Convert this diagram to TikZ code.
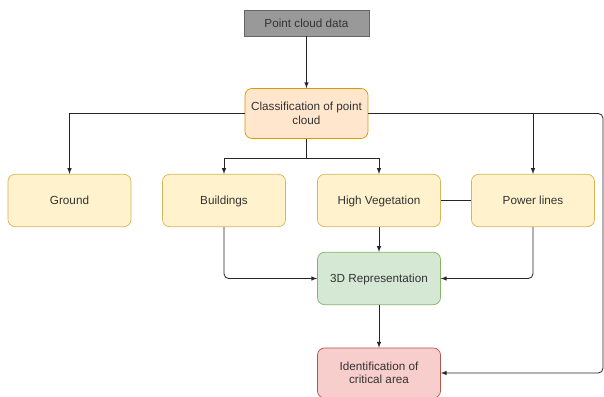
\documentclass[tikz,border=0pt]{standalone}
\usepackage{fontspec}
\setmainfont{Liberation Sans}
\usetikzlibrary{arrows}
\definecolor{pcdFill}{HTML}{999999}
\definecolor{pcdLine}{HTML}{666666}
\definecolor{txtGray}{HTML}{333333}
\definecolor{orFill}{HTML}{FFE6CC}
\definecolor{orLine}{HTML}{D79B00}
\definecolor{yeFill}{HTML}{FFF2CC}
\definecolor{yeLine}{HTML}{D6B656}
\definecolor{grFill}{HTML}{D5E8D4}
\definecolor{grLine}{HTML}{82B366}
\definecolor{reFill}{HTML}{F8CECC}
\definecolor{reLine}{HTML}{B85450}
\tikzstyle{BoxNode}=[rectangle, rounded corners=6pt, line width=0.6pt, align=center, inner sep=2pt, text=txtGray, font=\fontsize{10}{11.5}\selectfont, minimum width=3.69cm, minimum height=1.57cm]
\tikzstyle{DataNode}=[BoxNode, rounded corners=0pt, fill=pcdFill, draw=pcdLine, minimum width=3.75cm, minimum height=0.78cm]
\tikzstyle{ClassNode}=[BoxNode, fill=orFill, draw=orLine, minimum height=1.5cm]
\tikzstyle{CatNode}=[BoxNode, fill=yeFill, draw=yeLine, text height=1.6ex, text depth=0.45ex]
\tikzstyle{RepNode}=[BoxNode, fill=grFill, draw=grLine, text height=1.6ex, text depth=0.45ex]
\tikzstyle{AreaNode}=[BoxNode, fill=reFill, draw=reLine, minimum height=1.5cm]
\tikzstyle{FlowEdge}=[->, line width=0.7pt, black!85, rounded corners=4pt]
\tikzstyle{LinkEdge}=[line width=0.7pt, black!85]
\tikzset{>=latex}

\begin{document}
\begin{tikzpicture}[x=0.03cm, y=-0.03cm]
\useasboundingbox (0,0) rectangle (604,397);
\node[DataNode](PCD) at (306.5,23) {Point cloud data};
\node[ClassNode](CLASS) at (306.5,113.5) {Classification of point\\cloud};
\node[CatNode](GROUND) at (69.5,200.5) {Ground};
\node[CatNode](BUILD) at (224,200.5) {Buildings};
\node[CatNode](VEG) at (379,200.5) {High Vegetation};
\node[CatNode](POWER) at (533,200.5) {Power lines};
\node[RepNode](REP) at (379,278.5) {3D Representation};
\node[AreaNode](AREA) at (379,373) {Identification of\\critical area};
\coordinate (SPLIT) at (306.5,158);
\coordinate (EDGE) at (603,113.5);

\draw[FlowEdge](PCD) -- (CLASS);
\draw[FlowEdge, rounded corners=0pt](CLASS.west) -| (GROUND.north);
\draw[LinkEdge](CLASS.south) -- (SPLIT);
\draw[FlowEdge, rounded corners=0pt](SPLIT) -| (BUILD.north);
\draw[FlowEdge, rounded corners=0pt](SPLIT) -| (VEG.north);
\draw[FlowEdge, rounded corners=0pt](CLASS.east) -| (POWER.north);
\draw[FlowEdge](CLASS.east) -- (EDGE) |- (AREA.east);
\draw[LinkEdge](VEG) -- (POWER);
\draw[FlowEdge](BUILD.south) |- (REP.west);
\draw[FlowEdge](VEG) -- (REP);
\draw[FlowEdge](POWER.south) |- (REP.east);
\draw[FlowEdge](REP) -- (AREA);
\end{tikzpicture}
\end{document}
